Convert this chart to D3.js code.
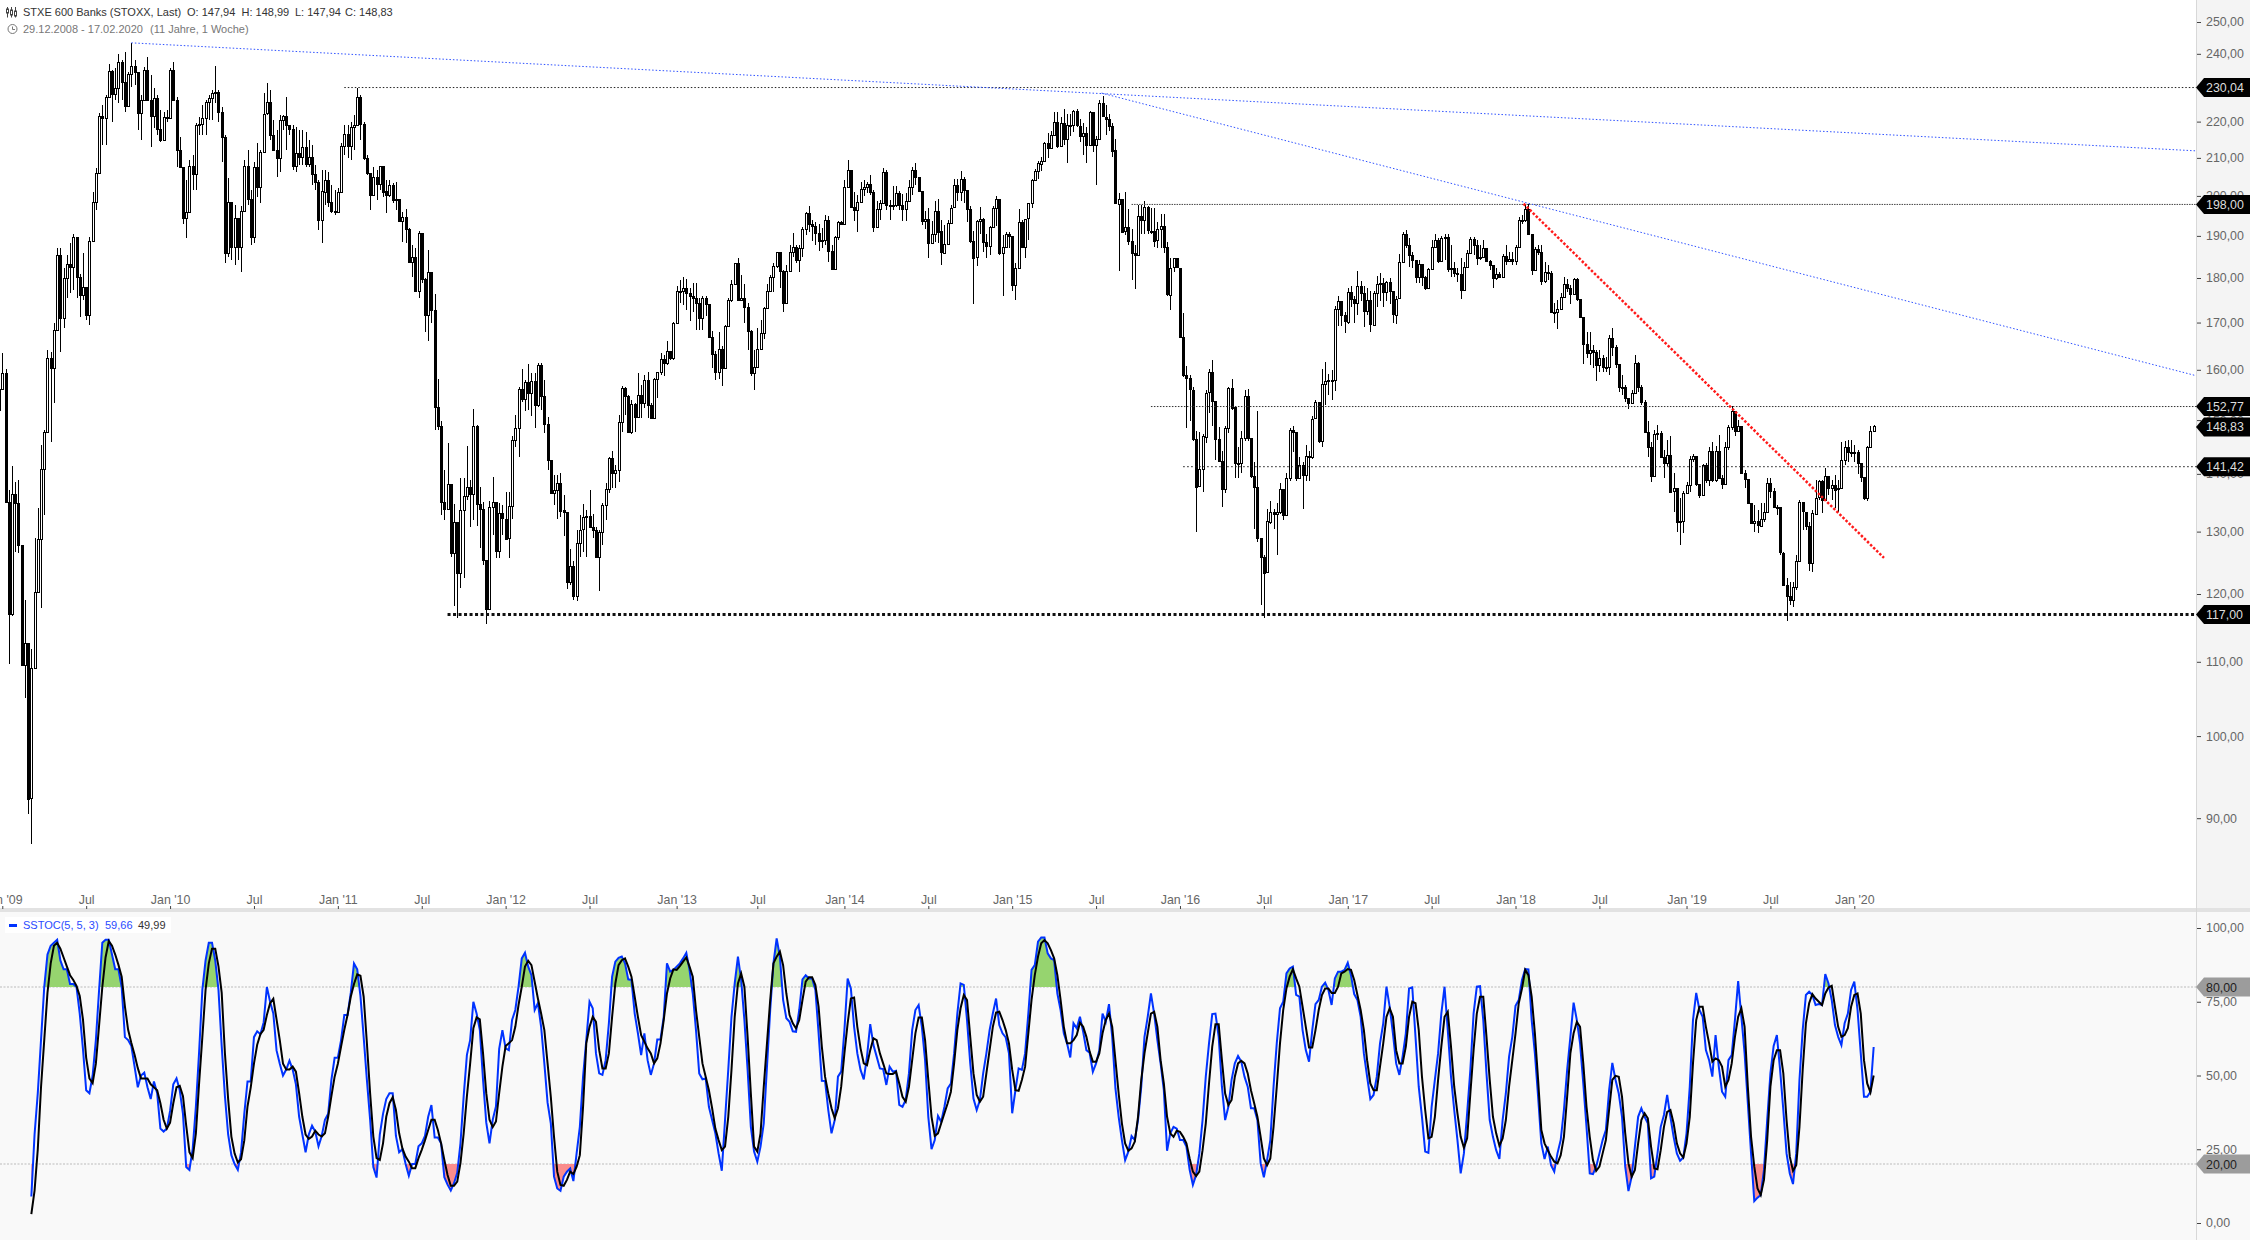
<!DOCTYPE html>
<html>
<head>
<meta charset="utf-8">
<title>STXE 600 Banks</title>
<script src="https://cdn.jsdelivr.net/npm/d3@7"></script>
<style>
    html, body { margin: 0; padding: 0; background: #fff; }
    svg { display: block; font-family: "Liberation Sans", Arial, sans-serif; }
</style>
</head>
<body>
<div id="chart"></div>
<script>
//Weekly closes, one per week starting with 29.12.2008 (open of a week is the close before it)
const firstOpen = 152;
const closes = [
156.1,159.4,135,117,136.4,134.8,127.8,109.5,112.7,92.3,
109.1,120.3,128.8,140.9,147.7,162.4,160.4,168.4,185.4,171,
180,183.3,182.6,189.8,180.3,176.2,178,171.7,188.8,198.5,
206,221.6,221,227.1,234.8,228,229.8,237.6,231.5,224.5,
233.9,236.4,234.5,222.5,226.2,235.1,226.2,221.6,226.8,218,
214.9,221.4,221,235.1,226.2,212.2,207.6,194.4,195.9,207.9,
205.7,219.1,219.4,221,225.6,226.8,228.3,228.6,222.8,215.7,
185.9,198.5,187.3,194.4,187.3,196.2,207.9,199.2,189.8,207.6,
202.3,211.7,222.3,225.6,216.3,212.2,210,220.5,221.6,219.1,
218,207.9,211.4,210.3,213,208.4,210.3,205.7,203.7,193.9,
201.2,204.2,198.5,196.2,195.9,201,213.3,216.6,213.3,218.6,
219.1,227.1,219.4,210,206,200.2,205,203.1,207.9,201.2,
200.2,202.8,199,199.2,193.7,194.6,191.7,183.7,184.9,177.1,
190.8,179.8,171.7,181.4,172.8,152.6,148.9,135,133.8,138.2,
126.5,131.6,123.3,133.6,136,137.6,136.4,148.9,134.7,133.8,
125.3,117.7,134.1,135,126.8,133.1,132.2,128.9,134.3,146.2,
148.5,156.1,154.1,157.5,155.3,157.7,152.9,161,154.7,149.2,
142.5,136.6,137.1,138.4,133.6,133.3,121.9,124.4,119.7,128.1,
130.3,132.4,132.6,130.8,130.3,125.9,130,134.5,137.3,142.9,
140.2,140.7,149.6,156.3,154.7,147.7,153.1,150.6,154.9,153.3,
157.9,152.9,150.4,158.1,159.6,162.2,161.4,163.9,162.4,169.9,
177.1,177.1,177.8,176.6,175.9,175.5,174.3,171,175.5,174.1,
166.9,163.3,159.6,164.3,160.4,169.3,175,178.7,183.5,175,
175.5,173.4,168.2,159.4,160.6,164.3,167.8,173.2,177.1,180.3,
182.8,186.1,181.7,174.3,181.7,186.1,187.3,184.2,187.1,191.7,
195.7,192.9,192.4,190.8,188.8,189,193.9,186.4,182.1,189.8,
193.4,192.9,202.3,206.8,197.2,196.4,198.5,201.8,202.3,203.1,
201,192.2,196.7,198.2,206.3,197.7,197.5,197.7,200.8,197.7,
196.8,198.8,202.3,206.7,204.8,201.2,193.6,194.2,188.3,190.4,
196.2,191.1,185.9,188,193.2,197,202.7,201,204.3,201.5,
196.6,188.8,184.8,193.6,194.2,188.6,187.6,192.2,197,199.3,
185.9,187.3,190.4,189.9,178.4,182.4,193.4,187.3,194.2,198.1,
204,206.4,208.5,209.2,214,212.6,216.3,219.9,213.2,219.7,
215.1,219.1,218.8,222.9,218.8,216,216.8,213.4,222.6,213.4,
215.1,225.2,221.4,220.8,218.8,212,198.1,199.3,191.1,192.2,
188.8,185.9,185.4,194.9,193.9,197.1,191.3,191.3,188.8,191.6,
192.3,187.3,176.3,182.4,184.6,182.4,166.9,158.9,158.3,156,
146.4,137.7,140.8,146.9,155.4,159.5,153.7,146.4,142.4,137.3,
148.5,156.4,152.5,142,142,146.6,154.8,146.6,139.7,137.7,
129,125.9,123.3,131.7,133.4,133,133.3,137.3,132.8,139.3,
148.1,147.7,139.3,141.6,139.8,143.3,143.1,150.3,153.5,146,
157.1,157.7,157.9,157.9,172.9,174.7,171.6,170.2,176.8,175.3,
174.4,178.2,176.6,172.5,174.9,169.6,176.6,178.6,178.9,176.8,
179.1,177,171.8,175.3,183.7,190.5,187.8,185.4,184.2,180.3,
183.3,180.3,177.8,182.1,187.3,189,184,189.5,189.8,182.1,
182.4,181.2,180.9,177.3,182.6,185.9,189.2,187.8,184.7,184.9,
187.1,184,183,180,180.9,180.3,185.2,184,184.4,184,
187.3,193.9,193.9,196.7,190.5,181.9,186.8,186.1,179.4,181.4,
181.2,172.4,172.4,173,175.7,178.7,177.8,176.4,179.8,175.2,
171.3,165.4,163.5,164.1,163.7,161,162.4,160.6,160.6,166.7,
164.7,161.2,156.5,156.5,154.3,153.3,155.3,161.4,156.5,153.5,
147.7,144.9,139.6,147.3,147.5,143.1,142,143.4,136.8,137.4,
131.6,131.7,136.6,138,142.7,143.3,138.2,136.2,141.6,138.9,
144.2,138.9,144.2,139.3,138.2,144.9,148.7,151.8,147.9,148.9,
140.2,139.1,134.8,131.4,131.7,131,132.2,133.4,138.4,136.9,
134.1,134.1,126.5,121.4,119.7,119.1,121.1,125.2,135,133.4,
131,124.9,133.1,135.8,138.7,135.4,139.6,137.4,138,137.2,
137.4,142.5,144.9,144,143.8,144,142,139.5,135.8,144.9,
147.94,148.83
];
const highs = [
160,163.5,160.2,137.1,141.4,138.5,138.9,127.7,119.1,112.5,
111.8,128.9,134,145.3,148.1,164.1,163.7,169.9,187.1,187.1,
182.4,185.4,188.3,190.5,188.8,180.9,185.9,176.8,189.8,201,
207.3,222.5,224.8,227.7,236.9,235.1,235.7,240,238.2,240.6,
234.5,243.4,238.2,234.5,227.7,236,239.1,233.6,229.8,227.7,
223.4,222.8,223.4,235.7,237.6,227.1,215.7,206.8,204.2,209.5,
210.8,219.7,221.3,224.8,226.2,227.7,229.2,236.3,229.2,224.2,
216.3,204.7,197.7,197.7,194.4,197.5,209.5,212.2,201.5,209,
214,212.2,228.3,231.2,229.2,220.5,217.7,222,222,227.1,
219.1,219.1,218.6,217.7,217.7,217.1,214.9,213.5,208.2,204.2,
206.8,206.8,206.3,202.8,201.5,202,214,219.1,219.1,220,
222,229.8,227.7,220,210.8,206,207.6,206.8,207.9,207.6,
204.2,204.2,203.4,203.7,197.2,195.9,196.7,192,187.8,187.1,
191.2,190.5,180,186.6,180.9,176.4,158.1,149.8,140.7,145.7,
137.1,134.7,129.6,139.3,139.3,145.1,138.9,152.2,149,137.6,
135,125,135.2,139.5,134.8,134.8,134.5,136.8,136.8,147,
151,156.5,160.2,157.9,161.2,159.4,159.4,161.4,161.4,157.9,
150.6,141.6,139.8,139.8,140.2,136.2,132.1,127.1,125.2,130.3,
132.8,134.7,133.6,137.1,133,130.8,130.3,134.8,138.4,143.1,
144.2,141.6,151,156.7,156.5,154.9,153.9,153.3,159.4,156.9,
158.9,159.6,153.3,158.3,159.6,163.5,163.1,166,163.9,170.1,
178.2,179.6,180.3,179.8,177.8,178.9,178.9,175.5,175.9,175.9,
173.4,168.2,163.9,168,165,169.5,175.5,179.6,183.5,184.7,
180.7,178.7,174.3,168.4,164.1,168.8,170.6,173.4,178.7,180.7,
183.5,186.1,185.4,181.9,183,187.8,190.7,187.8,187.8,192.2,
195.9,197.5,193.9,193.4,192.9,192,195.2,194.9,187.8,190,
193.7,193.7,204.2,209.5,206.8,201,200.2,203.7,204.2,203.7,
205.5,201.5,198.7,199,207.3,206.8,199,202.5,202.5,201.2,
200.4,200.7,204,207.6,208.6,205,201.2,196.2,196.8,193.6,
198.8,199.1,194,192.6,194,197.8,204.5,204.5,206.4,204.8,
201.5,197.3,191.3,193.9,197.1,194.4,190.4,192.3,197.3,199.9,
199.3,190.1,190.9,190.9,189.9,183.4,196.6,193.9,194,198.3,
204.5,207,209.2,210.3,214.2,216.8,217.4,222.6,222.6,221.4,
223.5,222.3,222.3,223.2,223.7,220.8,219.7,218.6,222.9,221.1,
216,226.1,227.3,224.7,222.3,219.7,215.1,200.7,199.3,201,
196.6,191.6,187.8,197.6,197.6,198.6,197.3,196.8,196.8,193.4,
195.4,195.4,188.6,184.8,184.8,184.3,182.4,172.1,160.8,158.9,
156.6,147.9,147.7,147.3,156,160.1,162.1,153.3,148.7,144.1,
148.9,156.6,158.1,152.7,145,147.9,156,156.2,146.4,142.2,
151.7,128.6,126.2,133.9,135.2,133.9,134.8,138.4,137.3,140.2,
148.5,148.9,146.9,143.1,142.2,145.2,144.1,150.8,153.9,153.1,
160.1,161.7,159.1,159.9,173.6,175.9,174.7,172.3,177.7,178.2,
175.9,181.7,179.3,178.2,177.7,177,177,180.5,181.1,180,
179.3,180,177,175.9,185.6,191,191.5,189.5,186.1,184.2,
184.2,183,180.5,182.4,189,190.5,189.5,190,190.5,190.5,
187.8,183.7,182.4,184.7,183.7,186.6,189.8,189.8,189,187.8,
189,186.6,184.2,182.8,182.4,181.4,185.6,187.8,186.1,186.1,
187.8,194.6,195.2,197.7,198,190.2,187.3,187.8,187.8,183.7,
183,181.7,174.3,175,176.6,180.3,179.8,178.4,180,180,
175.2,171.3,168,168,165.2,164.1,164.1,163.1,162.6,167.3,
168.8,165.2,160.8,158.9,156.9,154.3,155.9,163.1,161.6,156.9,
153.9,149.8,145.9,148.1,149,147.9,144.4,146.2,147,140.2,
137.3,135.7,136.9,138.5,143.3,143.7,143.3,138.2,141.8,142,
144.9,145.9,145.1,147.1,139.8,145.9,149,152.8,151.6,150,
148.5,140.7,138.9,134.5,134.5,133.6,134.8,134.8,139.3,139.3,
137.4,134.5,134.1,126.7,122.5,121.9,121.9,126.1,135.4,135,
133.3,131.6,133.6,138.9,138.9,138.9,141.1,139.3,138.9,139.8,
138.9,145.8,146,146.2,146.2,145.3,144.4,142,138.5,145.1,
148.9,148.99
];
const lows = [
152,156.1,135,109.7,116.6,126.7,126.5,109.5,105,90.5,
87.1,109.1,120.6,117.9,132.8,148.5,145.8,153.3,168.2,163.7,
168.8,175.5,176.6,177.3,175.5,171.3,175,170.6,169.5,189.8,
196.4,205.7,213.5,213.5,227.4,220,226.2,225.3,226.2,222.8,
224.5,230.1,230.7,217.7,214.9,226.2,226.2,213,218.3,216.3,
214.4,215.5,220,222,226.2,207.6,207.6,192.9,189.5,196.4,
201.5,201.5,216.3,216.3,216.3,220.5,220.5,225.3,220,209,
183.5,184.9,184.2,183,184.2,181.4,196.4,197.7,187.8,188.3,
199.7,198.2,211.7,222,214.9,212.2,205,206.3,217.7,212.2,
216.3,206.8,206.3,208.2,208.2,207.6,207.6,202.8,201.5,191.5,
188.3,197.7,197.2,195.7,195.2,195.9,201,210.8,210,209.5,
212.2,219.1,214.9,209.5,205.5,196.4,201.5,199,201.5,199.7,
195.7,199.7,198.2,196.4,193.4,188.5,188.3,183.5,180.3,176.8,
175.5,178.9,168,166,169.9,148.1,148.1,132.8,131.9,134,
125.9,118.2,116.4,120.9,122.5,135.4,130.8,131.9,131,127.3,
124.6,115.4,118.8,129.5,125.6,125.6,129.5,128.6,125.6,132.2,
144.9,143.1,153.5,151.8,152,150.8,148.5,152.6,152,147.5,
140.7,136.6,134.5,132.2,132.4,129.3,120.8,121.4,119.1,119,
125.8,126.7,125.8,130.8,128.9,125.8,120.5,127.8,131.9,136.6,
137.4,137.4,138.5,147.7,151,147.5,147.3,147.7,150.4,150.4,
152.4,150.4,150.2,151.4,154.3,158.9,158.7,161,162,162,
170.6,174.3,173.9,172.8,170.4,172.4,168.4,168.4,168.4,171.5,
166.7,160.4,157.9,158.1,156.7,160.4,169.5,174.5,178.7,174.8,
175,169.9,164.1,158.7,155.9,160.6,165.2,166.4,173.2,177.1,
176.8,182.4,177.8,172.4,176.2,181.4,184.9,183.5,181.4,184.9,
190.2,191,188.8,187.8,186.4,187.1,187.8,183.7,181.9,181.9,
189,192.7,192.7,202.5,197,193.7,191,198.2,200,200.8,
200.2,191,192.7,193.9,198.5,196.4,193.9,196.4,197.2,196.4,
193.6,193.6,199.1,200.2,202.7,201.2,192.6,191.8,184.8,188,
188.6,188.3,183.1,186.6,189,193.6,197.8,198.8,198.8,198.3,
193.4,188.3,174.2,182.9,190.4,186.1,184.6,185.4,192.3,192.3,
185.4,176,187.1,187.1,177,174.9,182.2,187.1,184.6,189,
196.8,204.3,204.3,206.4,209.7,209.9,212.9,216.8,212.6,213.1,
213.6,208.6,216,217.1,218.6,214.2,210.9,208.6,214.8,211.7,
202.7,216,221.4,216.3,217.4,210.3,198.1,181.7,190.9,190.1,
187.8,179.5,177.5,187.1,190.4,190.4,190.4,190.4,187.3,187.1,
187.1,185.9,175.9,172.7,181.3,182.4,166.9,158.5,148.5,149.9,
146,129.9,138.8,136.8,145.6,151.3,148.9,142.6,142.2,134.2,
136.6,147.5,151.9,139.3,139.3,140.2,146,146,139.3,130.4,
128.2,118.3,116.3,123.6,131.2,130.4,126.2,133,131.9,132.6,
138.8,143.9,138.8,139.3,133.8,138.8,138.8,142.7,150.3,145.6,
145,152.9,155,154,155.8,169.3,169.3,167.8,169.6,173.4,
170,171.6,174.7,169.1,171.6,168,169.3,173.4,174.7,173.4,
174.7,174,170,169.6,175.6,183.7,187.1,182.6,182.4,178.9,
178.9,178.2,177.3,177.8,182.4,187.8,183.5,183.7,184.2,181.4,
180.3,180.3,179.1,175.2,177.8,182.4,185.9,185.4,183,184.2,
184.7,183.7,181.9,177.8,179.6,180,180.5,183,183.7,183,
183,187.3,192.9,193.4,190.2,180.7,182.6,185.4,178.4,178.9,
179.6,172.2,169.9,168.6,173.4,175.5,176.8,174.1,176.2,174.8,
171,161.2,162.4,161,160.4,157.7,159.6,159.6,159.6,159,
162.9,160.4,155.5,154.9,153.5,152.2,153.3,155.1,155.5,152.9,
147.7,143.1,138.5,139.6,146.2,143.1,139.3,141.4,136.8,133.3,
130,127.8,129.8,136.6,136.8,142.1,137.8,135.8,136.2,138.4,
137.8,138.5,138.5,139.3,137.3,138.5,144.4,148.1,146.9,147.7,
140.2,137.4,134.8,131.4,130,129.8,131,131.6,133.3,135.8,
134.1,132.8,126.1,121.4,115.9,118.3,118,120.6,125,130.3,
130.3,123.6,123.5,133.1,135.4,133.1,135.4,136.2,135.4,134,
133.3,137.4,141.6,142.1,143.1,142.1,140,138.5,135.4,135.2,
147.5,147.94
];

//Slow stochastic, read in three stretches. Each stretch has its first week in stochStarts
const stochStarts = [10, 156, 366];
const blue2009 = [
9,30,44,62,80,91,94,95,96,89,86,86,81,81,80,71,59,45,44,50,
62,79,95,96,96,91,86,86,80,63,62,60,53,46,50,51,46,42,48,44,
32,31,32,38,47,49,45,37,19,18,25,39.5,58,79,89,95,95,89,79,60,
43,30,23,20,18,24,37,48,48,63,65,64,68,80,75,71,58.5,54,50,52,
55,52,47,36,30,24,30,33,31,26,29.5,35,37,48.5,56,56,62,70.5,70.5,78,
88,86,77,63,48.5,35,19,15.4,30,37,42,44,44,29.5,24,25,20,16,20,20,
26,27,29.5,36,40,29,29,27,15.5,13,11,13.5,17,27,43,57,62,75,71,65.5,
48.5,34,27,35,39.5,59
];
const black2009 = [
3,11,25,46,62,78,88,94,95,93,90,87,84,82.4,80.4,77,69,56,49,47.4,
54,67,80,90,95.6,94,91,87.5,83.5,73.4,65.5,61,57,52.5,49,49,49,47,46,45,
40.6,35,32,34,40.6,46,46.5,43,33,24,22,30.4,47.4,63,79,88,93,93,87,78,
57.5,42,29.3,23.6,20.5,21.6,28,39.5,46,54,60.4,64,65.5,70.5,74.5,76,69,62,54,52,
52,53,51.3,44,36,30,28.5,29.3,31.3,30,29.3,30.4,36,43,49.6,54,59.8,65.5,70.5,76.7,
81,84.3,83.8,76.7,61,44,29.3,22,21.4,27,36,40.6,42.6,38.3,30.4,25.3,22.5,20.8,18.6,18.6,
22,24.8,28,31.5,35,35,31.5,27,21.4,16.3,12.6,12.6,14,20.3,30.4,43,54,66,69.7,69,
57.5,44,35,32.5,34.4,44
];
const blue2012 = [
65.4,59.2,58.6,68.8,72.2,80.1,89.7,91.6,86.9,84,72.2,74.5,66.5,54.1,40.8,33.8,15.7,11.7,10.9,15.7,
17.4,18.5,14.2,23.6,32.6,49.6,62,75,72.8,57.5,50.7,50.2,55.2,67.7,83.5,88.6,89.9,90.3,88,82.6,
82.4,71,64.3,56.9,64.3,55.2,50.2,54.1,62.2,62.2,69.9,88,85.2,85.8,86.9,88,89.7,91.6,85.8,77.8,
65.4,50.7,48.7,49,39.4,34.9,30.4,23.6,17.7,34.9,51.9,69.9,81.2,90.3,82.4,68.8,51.9,32.6,24.2,20.8,
25.9,33.8,53,72.2,88,96.5,90.3,75.6,69.4,68.2,65,64.8,72.2,82.6,84,82.9,82.9,79,64.3,48.2,
48.1,38.3,30.4,34.9,49.6,51.3,65.4,82.9,79.5,66.5,57.5,51.9,48.7,56.4,67.4,60.3,56.4,52.4,52.2,46.8,
53,51.3,51.6,40,39.4,41.7,50.7,65.4,72.2,73.9,66.5,55.2,36,25,28.1,36.3,34.3,39.4,45.6,47.3,
57.5,71,81.2,80.7,68.8,54.1,42.2,38.3,41.7,50.7,57.5,65.4,71,76.1,67.1,64.3,62.9,57.5,37.2,45,
52.4,51.9,57.5,71,85.8,87.4,95.4,96.8,96.8,91.4,89.7,89.1,77.8,72.2,64.3,60.9,56.1,67.7,66,69.9,
64.8,58.6,57.7,51.3,54.1,58.6,71,68.2,74.2,63.1,45.6,36,28.1,21.3,24.2,29.5,28.1,34.9,46.2,63.1,
69.9,77.8,71,62,54.1,45,24.5,30.4,32.6,32
];
const black2012 = [
53,60,60.9,62,66.5,73.9,80.1,86.9,88.9,87.4,81.8,76.1,71,65.4,54.1,42.8,29.2,17.4,12.9,12.6,
14.6,17.4,16.6,19.1,23,39.4,60.9,66.5,69.9,68.2,58.6,52.4,52.4,57.5,69.9,81.2,87.4,89.1,89.7,86.9,
83.5,76.7,69.9,63.7,61.5,59.2,57.5,54.1,55.8,60.9,68.8,77.8,82.9,86,85.8,87.1,88.6,90,86.9,83.5,
72.2,63.1,54.1,49.6,45,38.9,32,28.1,24.7,25.9,36,51.9,69.9,81.2,84.6,80.1,63.1,43.9,25.9,24.2,
30.4,46.2,60.9,75.6,88,90.3,92,87.4,77.8,70.5,67.7,66,68.8,75.6,81.8,83.3,83.3,80.7,73.3,59.8,
49.6,43.9,38.9,35.5,38.9,46.2,57.5,67.7,76.1,76.4,66.5,59.2,54.1,53.5,58.6,62.6,62,57.5,54.1,50.7,
50.5,50.5,51.3,47.3,42.8,41.1,46.2,55.2,64.3,69.7,69.7,62,48.5,36,29.5,30.4,33.8,37.2,40.6,44.5,
54.1,65.4,72.8,77.3,75.6,63.1,50.7,43.4,41.1,42.8,50.7,58.6,66.5,71.3,71.6,68.8,65.4,60.9,51.9,45,
44.8,48.5,53,64.3,75.6,84,90.3,94.8,95.9,94.8,92.5,89.7,84,75.6,66.5,60.9,60.9,62,63.7,67.9,
66.5,63.1,58.1,54.7,54.7,57.5,64.3,68.8,71,66.5,55.2,43.9,33.8,27,24.5,25.3,27.6,36,48.5,57.5,
64.3,71,71.6,66.5,55.2,47.3,36,30.4,29.2,31.3
];
const blue2016 = [
28.1,28.1,25.9,18,12.9,16.3,23.6,34.9,49.6,60.9,70.8,71,63.1,46.2,34.9,39.4,48.5,54.1,56.6,54.7,
49.6,46.2,38.9,38.9,34.9,20.2,15.5,21.3,28.1,46.2,60.9,72.8,75,84.6,86.3,86.9,77.3,76.7,65.4,58.6,
54.7,65.4,74.2,75.6,80.1,81.5,79,73.9,82.9,85.2,85.2,85.8,88.2,84,77.6,75.6,69.9,57.5,49.6,42,
43.4,49.6,60.9,67.7,80.1,73.3,64.3,54.1,50.2,56.4,64.3,79.5,79.9,63.1,46.2,36,24.2,23.8,39.4,48.5,
57.5,71,80.1,65.4,49.6,38.3,28.1,16.8,23.6,37.2,51.9,71,80.1,80.3,68.8,50.7,34.9,29.2,24.7,21.7,
34.9,43.9,56.4,63.1,73.6,75.6,82.4,86.1,86,68.8,57.5,42.8,27,21.7,25.9,19.6,17.4,23.6,28.1,38.3,
51.9,63.1,74.7,68.8,60.9,47.3,32.6,16.8,16.6,19.1,23.6,28.1,31.5,45,54.3,48.5,43.9,36,19.1,10.8,
15.7,25.9,36,38.9,36,33.8,15.1,15.7,23.6,32.6,36.6,43.4,36,29.2,23.6,21.1,22.2,30.4,46.2,68.8,
78,72.2,69.9,58.6,55.2,49.6,63.7,53,44.5,42.8,55.2,56.9,68.8,82,69.9,57.5,40.6,23.6,7.4,8.6,
9.5,18,34.9,50.7,60,63.7,51.9,38.3,23.6,16.8,13.2,23.6,48.5,65.4,77.3,78.4,77.3,73.9,74.2,73.9,
84.4,81.2,75.6,67.1,63.1,60.3,67.7,71,79,81.8,72.2,57.5,42.8,42.8,44.5,59.66
];
const black2016 = [
30.9,29.2,27,21.9,17.4,15.9,17.4,24.7,33.8,47.3,59.8,67.4,67.4,55.2,43.9,40,41.7,49.6,54.1,55,
54.1,50.7,45,40.6,36,29.2,21.9,19.6,21.9,32.6,46.2,60.9,72.2,79.5,83.5,86,82.9,80.1,73.3,66.5,
59.5,59.5,65.4,72.2,77.3,79.5,79.5,78,78,80.1,84.6,85.2,86.1,85.8,82.4,77.3,72.2,65.4,55.2,47.3,
45,45,53,60.9,69.9,72.8,69.9,58.6,54.1,54.1,59.8,69.9,75,74.5,65.4,49.6,38.3,28.7,29.2,36,
48.5,59.8,69.9,71.6,59.8,46.2,37.2,29.2,25.5,28.7,43.9,58.6,71,76.7,76.7,63.1,48.5,36,30.4,26.2,
28.7,34.9,46.2,55.2,64.3,74.5,79.5,85.8,84,76.7,64.3,48.5,31.5,27,24.7,22.5,20.8,20.2,23,29.2,
42.8,57.5,64.3,68.2,66.5,54.1,39.4,29.2,21.3,17.7,19.1,23.6,28.1,38.3,48.5,49.9,49.6,42.8,30.4,20.2,
15.7,18,27,34.9,37.2,35.5,25.9,18.5,18.2,24.7,32.6,37.7,38.3,33.8,27,23.6,22.2,27,36,54.1,
68.8,73.3,73.3,66.5,60.9,54.7,55.8,55.2,53,46.2,48.5,54.1,63.1,69.9,72.8,66.5,46.2,29.2,19.1,11.7,
9.5,14.6,28.1,46.2,55.2,58.6,58.6,50.7,34.9,22.5,17.7,19.6,32.6,51.9,67.7,74.5,77.6,76.1,75,73.9,
77.8,79.8,80.4,73.3,66.5,63.1,63.7,66,73.3,77.3,77.8,71,55.2,47.3,44.3,49.99
];

const priceTicks = [250, 240, 230, 220, 210, 200, 190, 180, 170, 160, 150, 140, 130, 120, 110, 100, 90];
const stochTicks = [100, 75, 50, 25, 0];
const stochBands = [80, 20];

//Horizontal levels and the week each one starts at
const levels = [230.04, 198, 152.77, 141.42, 117];
const levelStarts = [107, 351, 357, 367, 139];

//Trend lines as [week, price]
const trendA = [[41, 243.4], [680.9, 211.9]];
const trendB = [[341.7, 228.2], [680.9, 158.8]];
const trendRed = [[472.5, 198], [584.2, 125.7]];

const timeTickWeeks = [1, 27, 53, 79, 105, 131, 157, 183, 210, 235, 262, 288, 314, 340, 366, 392, 418, 444, 470, 496, 523, 549, 575];
const timeTickLabels = ["Jan '09", "Jul", "Jan '10", "Jul", "Jan '11", "Jul", "Jan '12", "Jul", "Jan '13", "Jul", "Jan '14", "Jul", "Jan '15", "Jul", "Jan '16", "Jul", "Jan '17", "Jul", "Jan '18", "Jul", "Jan '19", "Jul", "Jan '20"];

const width = 2250, height = 1240;
const axisX = 2196;
const axisFont = 12.4;
const comma = v => d3.format(".2f")(v).replace(".", ",");

const svg = d3.select("#chart").append("svg")
    .attr("width", width)
    .attr("height", height);

//Backgrounds
svg.append("rect").attr("width", width).attr("height", height).attr("fill", "#fff");
svg.append("rect").attr("x", 0).attr("y", 912).attr("width", width).attr("height", 328).attr("fill", "#f9f9f9");
svg.append("rect").attr("x", axisX).attr("y", 0).attr("width", width - axisX).attr("height", 910).attr("fill", "#f4f4f4");
svg.append("rect").attr("x", 0).attr("y", 908).attr("width", width).attr("height", 4).attr("fill", "#e2e2e2");
svg.append("line").attr("x1", axisX + 0.5).attr("x2", axisX + 0.5).attr("y1", 0).attr("y2", height)
    .attr("stroke", "#d8d8d8");

const xScale = d3.scaleLinear().domain([0, 581]).range([-0.93, 1873.67]);
const yScale = d3.scaleLog().domain([120, 250]).range([594, 22]);
const yStoch = d3.scaleLinear().domain([0, 100]).range([1223, 928]);

//Build the candles, open is the close of the week before
const candles = closes.map((c, i) => ({
    i: i,
    open: i === 0 ? firstOpen : closes[i - 1],
    close: c,
    high: highs[i],
    low: lows[i]
}));

const candleG = svg.append("g").attr("shape-rendering", "crispEdges");
candleG.selectAll("line.wick")
    .data(candles)
    .join("line")
    .attr("class", "wick")
    .attr("x1", d => Math.round(xScale(d.i)) + 0.5)
    .attr("x2", d => Math.round(xScale(d.i)) + 0.5)
    .attr("y1", d => yScale(Math.max(d.high, d.open, d.close)))
    .attr("y2", d => yScale(Math.min(d.low, d.open, d.close)))
    .attr("stroke", "#000");
candleG.selectAll("rect.body")
    .data(candles)
    .join("rect")
    .attr("class", "body")
    .attr("x", d => Math.round(xScale(d.i)) - 0.5)
    .attr("width", 2)
    .attr("y", d => Math.round(yScale(Math.max(d.open, d.close))) + 0.5)
    .attr("height", d => Math.max(1, Math.round(yScale(Math.min(d.open, d.close)) - yScale(Math.max(d.open, d.close)))))
    .attr("fill", d => d.close >= d.open ? "#fff" : "#000")
    .attr("stroke", "#000");

//Horizontal levels, the level lines and their tags sit just under the scale position
const levelNudge = 0.7;
const levelDash = ["1.5 2", "1.5 1", "1.5 1.5", "1.5 2.5", "3 2.5"];
const levelColor = ["#222", "#444", "#333", "#111", "#111"];
levels.forEach((v, i) => {
    svg.append("line")
        .attr("x1", xScale(levelStarts[i]))
        .attr("x2", axisX)
        .attr("y1", yScale(v) + levelNudge)
        .attr("y2", yScale(v) + levelNudge)
        .attr("stroke", levelColor[i])
        .attr("stroke-width", v === 117 ? 3 : 1)
        .attr("stroke-dasharray", levelDash[i]);
});

//Trend lines
const trendLine = d3.line().x(d => xScale(d[0])).y(d => yScale(d[1]));
[trendA, trendB].forEach(t => {
    svg.append("path")
        .attr("d", trendLine(t))
        .attr("fill", "none")
        .attr("stroke", "#2f52ff")
        .attr("stroke-width", 1)
        .attr("stroke-dasharray", "1.5 2");
});
svg.append("path")
    .attr("d", trendLine(trendRed))
    .attr("fill", "none")
    .attr("stroke", "#ff1a1a")
    .attr("stroke-width", 2.5)
    .attr("stroke-dasharray", "2.5 1.8");

//Price axis
svg.append("g")
    .attr("transform", "translate(" + (axisX + 1) + ",0)")
    .call(d3.axisRight(yScale).tickValues(priceTicks).tickFormat(comma).tickSize(4).tickPadding(5))
    .call(g => g.select(".domain").remove())
    .call(g => g.selectAll("line").attr("stroke", "#444"))
    .call(g => g.selectAll("text").attr("fill", "#666").attr("font-size", axisFont).attr("font-family", "Liberation Sans"));

//Value tags on the axis
function tag(y, text, fill, color) {
    svg.append("path")
        .attr("d", "M" + axisX + "," + y + "L" + (axisX + 8) + "," + (y - 9.5) + "H" + width + "V" + (y + 9.5) + "H" + (axisX + 8) + "Z")
        .attr("fill", fill);
    svg.append("text")
        .attr("x", axisX + 10)
        .attr("y", y + 4.5)
        .attr("font-size", axisFont)
        .attr("fill", color)
        .text(text);
}
levels.forEach(v => tag(yScale(v) + levelNudge, comma(v), "#000", "#ddd"));
tag(yScale(closes[closes.length - 1]) + levelNudge, comma(closes[closes.length - 1]), "#000", "#ddd");

//Time axis, labels sit above the separator
svg.append("g")
    .attr("transform", "translate(0,909)")
    .call(d3.axisTop(xScale).tickValues(timeTickWeeks).tickFormat((d, i) => timeTickLabels[i]).tickSize(3).tickPadding(2))
    .call(g => g.select(".domain").remove())
    .call(g => g.selectAll("line").attr("stroke", "#444"))
    .call(g => g.selectAll("text").attr("fill", "#666").attr("font-size", axisFont).attr("font-family", "Liberation Sans"));

//Stochastic panel
const toPoints = (parts) => parts.flatMap((p, k) => p.map((v, i) => ({ i: stochStarts[k] + i, v: v })));
const bluePoints = toPoints([blue2009, blue2012, blue2016]);
const blackPoints = toPoints([black2009, black2012, black2016]);

stochBands.forEach(b => {
    svg.append("line")
        .attr("x1", 0).attr("x2", axisX)
        .attr("y1", yStoch(b)).attr("y2", yStoch(b))
        .attr("stroke", "#bbb")
        .attr("stroke-dasharray", "2 1.5");
});

//Zones beyond the bands: area to the band, clipped to the outer side
const defs = svg.append("defs");
defs.append("clipPath").attr("id", "overbought").append("rect")
    .attr("x", 0).attr("width", axisX).attr("y", 912).attr("height", yStoch(80) - 912);
defs.append("clipPath").attr("id", "oversold").append("rect")
    .attr("x", 0).attr("width", axisX).attr("y", yStoch(20)).attr("height", 1240 - yStoch(20));
const zone = base => d3.area().x(d => xScale(d.i)).y0(yStoch(base)).y1(d => yStoch(d.v));
svg.append("path").attr("d", zone(80)(bluePoints)).attr("fill", "#96d46f").attr("clip-path", "url(#overbought)");
svg.append("path").attr("d", zone(20)(bluePoints)).attr("fill", "#fa8c8c").attr("clip-path", "url(#oversold)");

const stochLine = d3.line().x(d => xScale(d.i)).y(d => yStoch(d.v));
svg.append("path").attr("d", stochLine(bluePoints)).attr("fill", "none").attr("stroke", "#0033ff").attr("stroke-width", 2);
svg.append("path").attr("d", stochLine(blackPoints)).attr("fill", "none").attr("stroke", "#000").attr("stroke-width", 2);

svg.append("g")
    .attr("transform", "translate(" + (axisX + 1) + ",0)")
    .call(d3.axisRight(yStoch).tickValues(stochTicks).tickFormat(comma).tickSize(4).tickPadding(5))
    .call(g => g.select(".domain").remove())
    .call(g => g.selectAll("line").attr("stroke", "#444"))
    .call(g => g.selectAll("text").attr("fill", "#666").attr("font-size", axisFont).attr("font-family", "Liberation Sans"));
stochBands.forEach(b => tag(yStoch(b), comma(b), "#9c9c9c", "#222"));

//Legend of the stochastic
svg.append("rect").attr("x", 5).attr("y", 917).attr("width", 166).attr("height", 16).attr("fill", "#fff");
svg.append("rect").attr("x", 9).attr("y", 924).attr("width", 8).attr("height", 3).attr("fill", "#0033ff");
function label(x, y, text, color) {
    svg.append("text").attr("x", x).attr("y", y).attr("font-size", 11).attr("fill", color).text(text);
}
label(23, 929, "SSTOC(5, 5, 3)", "#2a4bff");
label(105, 929, comma(blue2016[blue2016.length - 1]), "#2a4bff");
label(138, 929, comma(black2016[black2016.length - 1]), "#333");

//Header
label(23, 16, "STXE 600 Banks (STOXX, Last)", "#333");
label(187, 16, "O: 147,94", "#333");
label(241.5, 16, "H: 148,99", "#333");
label(295, 16, "L: 147,94", "#333");
label(345, 16, "C: 148,83", "#333");
label(23, 33, "29.12.2008 - 17.02.2020", "#777");
label(150, 33, "(11 Jahre, 1 Woche)", "#777");

//Small header icons
const icon = svg.append("g").attr("stroke", "#444").attr("fill", "#fff");
[[7.5, 9, 13], [11.5, 10, 15], [15.5, 11, 16]].forEach(b => {
    icon.append("line").attr("x1", b[0]).attr("x2", b[0]).attr("y1", 7).attr("y2", 17.5);
    icon.append("rect").attr("x", b[0] - 1).attr("y", b[1]).attr("width", 2).attr("height", b[2] - b[1]);
});
const clock = svg.append("g").attr("stroke", "#777").attr("fill", "none");
clock.append("circle").attr("cx", 12.5).attr("cy", 29).attr("r", 4.5);
clock.append("path").attr("d", "M12.5,26.5V29.5H15");
</script>
</body>
</html>
